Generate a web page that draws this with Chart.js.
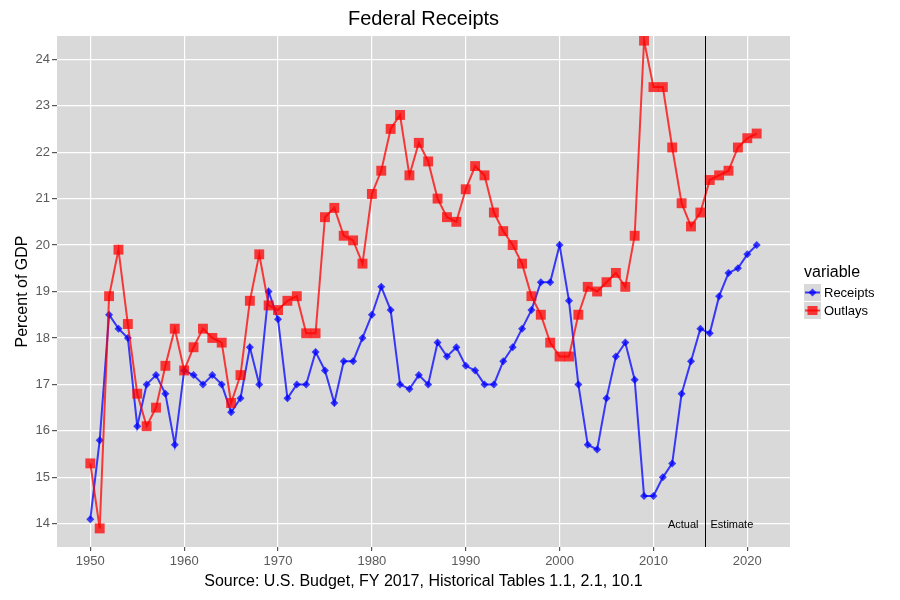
<!DOCTYPE html>
<html>
<head>
<meta charset="utf-8">
<title>Federal Receipts</title>
<script src="https://cdn.jsdelivr.net/npm/chart.js@4.4.1/dist/chart.umd.min.js"></script>
<style>
  html, body { margin: 0; padding: 0; background: #fff; }
  #wrap { width: 900px; height: 600px; }
</style>
</head>
<body>
<div id="wrap"><canvas id="chart" width="900" height="600"></canvas></div>
<script>
// --- Data (% of GDP) ---
const years = [];
for (let y = 1950; y <= 2021; y++) years.push(y);

const receipts = [
  14.1, 15.8, 18.5, 18.2, 18.0, 16.1, 17.0, 17.2, 16.8, 15.7,   // 1950s
  17.3, 17.2, 17.0, 17.2, 17.0, 16.4, 16.7, 17.8, 17.0, 19.0,   // 1960s
  18.4, 16.7, 17.0, 17.0, 17.7, 17.3, 16.6, 17.5, 17.5, 18.0,   // 1970s
  18.5, 19.1, 18.6, 17.0, 16.9, 17.2, 17.0, 17.9, 17.6, 17.8,   // 1980s
  17.4, 17.3, 17.0, 17.0, 17.5, 17.8, 18.2, 18.6, 19.2, 19.2,   // 1990s
  20.0, 18.8, 17.0, 15.7, 15.6, 16.7, 17.6, 17.9, 17.1, 14.6,   // 2000s
  14.6, 15.0, 15.3, 16.8, 17.5, 18.2, 18.1, 18.9, 19.4, 19.5,   // 2010s
  19.8, 20.0
];

const outlays = [
  15.3, 13.9, 18.9, 19.9, 18.3, 16.8, 16.1, 16.5, 17.4, 18.2,
  17.3, 17.8, 18.2, 18.0, 17.9, 16.6, 17.2, 18.8, 19.8, 18.7,
  18.6, 18.8, 18.9, 18.1, 18.1, 20.6, 20.8, 20.2, 20.1, 19.6,
  21.1, 21.6, 22.5, 22.8, 21.5, 22.2, 21.8, 21.0, 20.6, 20.5,
  21.2, 21.7, 21.5, 20.7, 20.3, 20.0, 19.6, 18.9, 18.5, 17.9,
  17.6, 17.6, 18.5, 19.1, 19.0, 19.2, 19.4, 19.1, 20.2, 24.4,
  23.4, 23.4, 22.1, 20.9, 20.4, 20.7, 21.4, 21.5, 21.6, 22.1,
  22.3, 22.4
];

const xTicks = [1950, 1960, 1970, 1980, 1990, 2000, 2010, 2020];
const yTicks = [14, 15, 16, 17, 18, 19, 20, 21, 22, 23, 24];
const dividerYear = 2015.5;   // last actual year 2015, estimates from 2016

// --- Styles ---
const FONT = '"Liberation Sans", Arial, sans-serif';
const PANEL_BG = '#d9d9d9';
const BLUE = 'rgba(0, 0, 255, 0.75)';
const RED = 'rgba(255, 0, 0, 0.75)';
const AXIS_TEXT = '#5a5a5a';

const toPoints = (vals) => years.map((yr, i) => ({ x: yr, y: vals[i] }));

// panel background + title, legend, actual/estimate divider
const decor = {
  id: 'decor',
  beforeDraw(chart) {
    const { ctx, chartArea: a } = chart;
    ctx.save();
    ctx.fillStyle = PANEL_BG;
    ctx.fillRect(a.left, a.top, a.right - a.left, a.bottom - a.top);
    ctx.restore();
  },
  afterDatasetsDraw(chart) {
    const { ctx, chartArea: a, scales } = chart;
    const xd = Math.round(scales.x.getPixelForValue(dividerYear)) + 0.5;
    ctx.save();
    ctx.strokeStyle = '#000';
    ctx.lineWidth = 1;
    ctx.beginPath();
    ctx.moveTo(xd, a.top);
    ctx.lineTo(xd, a.bottom);
    ctx.stroke();
    ctx.fillStyle = '#000';
    ctx.font = '11px ' + FONT;
    ctx.textBaseline = 'middle';
    const ty = scales.y.getPixelForValue(14) + 1;
    ctx.textAlign = 'right';
    ctx.fillText('Actual', xd - 7, ty);
    ctx.textAlign = 'left';
    ctx.fillText('Estimate', xd + 5, ty);
    ctx.restore();
  },
  afterDraw(chart) {
    const { ctx, chartArea: a } = chart;
    ctx.save();
    // title
    ctx.fillStyle = '#000';
    ctx.font = '20px ' + FONT;
    ctx.textAlign = 'center';
    ctx.textBaseline = 'middle';
    ctx.fillText('Federal Receipts', (a.left + a.right) / 2, 19);

    // legend
    const lx = a.right + 14, ly = 273;
    ctx.textAlign = 'left';
    ctx.font = '16px ' + FONT;
    ctx.fillText('variable', lx, ly);
    const items = [
      { label: 'Receipts', color: BLUE, style: 'diamond' },
      { label: 'Outlays', color: RED, style: 'square' }
    ];
    items.forEach((it, i) => {
      const by = 284 + i * 18;
      ctx.fillStyle = PANEL_BG;
      ctx.fillRect(lx, by, 17, 17);
      const cx = lx + 8.5, cy = by + 8.5;
      ctx.strokeStyle = it.color;
      ctx.lineWidth = 2;
      ctx.beginPath();
      ctx.moveTo(lx + 1, cy);
      ctx.lineTo(lx + 16, cy);
      ctx.stroke();
      ctx.fillStyle = it.color;
      ctx.beginPath();
      if (it.style === 'diamond') {
        ctx.moveTo(cx, cy - 4); ctx.lineTo(cx + 4, cy);
        ctx.lineTo(cx, cy + 4); ctx.lineTo(cx - 4, cy);
        ctx.closePath();
      } else {
        ctx.rect(cx - 5, cy - 4.5, 10, 9);
      }
      ctx.fill();
      ctx.fillStyle = '#000';
      ctx.font = '13px ' + FONT;
      ctx.fillText(it.label, lx + 20, cy + 1);
    });
    ctx.restore();
  }
};

new Chart(document.getElementById('chart'), {
  type: 'line',
  data: {
    datasets: [
      {
        label: 'Receipts',
        data: toPoints(receipts),
        borderColor: BLUE,
        backgroundColor: BLUE,
        borderWidth: 2,
        pointStyle: 'rectRot',
        pointRadius: 4,
        pointBorderWidth: 0,
        tension: 0,
        order: 1
      },
      {
        label: 'Outlays',
        data: toPoints(outlays),
        borderColor: RED,
        backgroundColor: RED,
        borderWidth: 2,
        pointStyle: 'rect',
        pointRadius: 7,
        pointBorderWidth: 0,
        tension: 0,
        order: 0
      }
    ]
  },
  options: {
    responsive: false,
    animation: false,
    layout: { padding: { left: 0, right: 110, top: 36, bottom: 0 } },
    plugins: {
      legend: { display: false },
      title: { display: false },
      tooltip: { enabled: false }
    },
    scales: {
      x: {
        type: 'linear',
        min: 1946.45,
        max: 2024.55,
        afterFit: (s) => { s.height = 53; },
        afterBuildTicks: (s) => { s.ticks = xTicks.map(v => ({ value: v })); },
        border: { display: false },
        grid: { color: '#ffffff', lineWidth: 1.2, tickColor: '#555', tickLength: 4 },
        ticks: {
          color: AXIS_TEXT,
          font: { family: FONT, size: 13 },
          padding: 3,
          maxRotation: 0,
          callback: (v) => String(v)
        },
        title: {
          display: true,
          text: 'Source: U.S. Budget, FY 2017, Historical Tables 1.1, 2.1, 10.1',
          color: '#000',
          font: { family: FONT, size: 16 },
          padding: { top: 0, bottom: 9 }
        }
      },
      y: {
        min: 13.5,
        max: 24.5,
        afterFit: (s) => { s.width = 57; },
        afterBuildTicks: (s) => { s.ticks = yTicks.map(v => ({ value: v })); },
        border: { display: false },
        grid: { color: '#ffffff', lineWidth: 1.2, tickColor: '#555', tickLength: 5 },
        ticks: {
          color: AXIS_TEXT,
          font: { family: FONT, size: 13 },
          padding: 2,
          callback: (v) => String(v)
        },
        title: {
          display: true,
          text: 'Percent of GDP',
          color: '#000',
          font: { family: FONT, size: 16 },
          padding: { top: 13, bottom: 0 }
        }
      }
    }
  },
  plugins: [decor]
});
</script>
</body>
</html>
